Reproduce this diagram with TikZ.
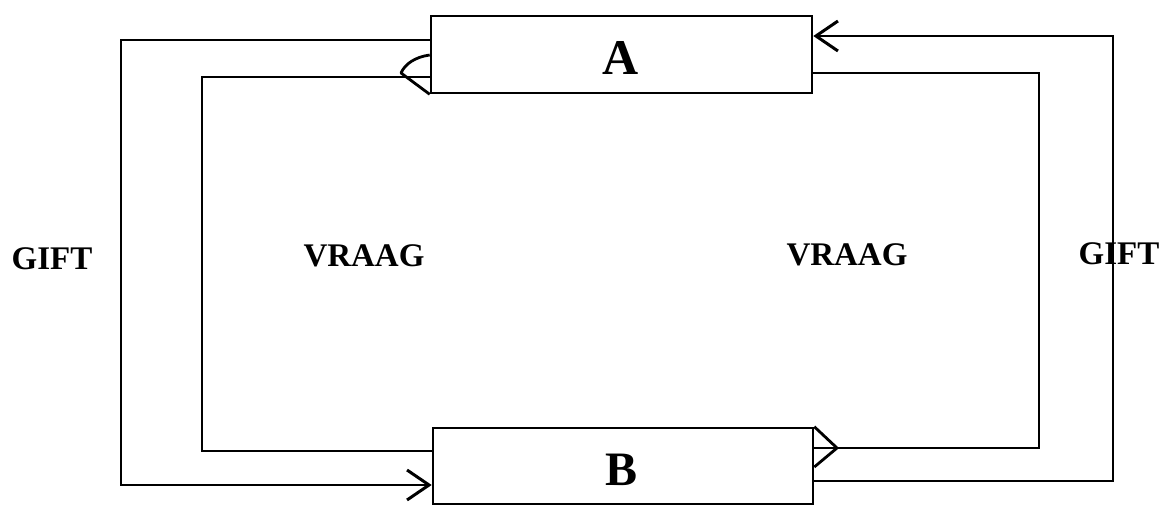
\documentclass[tikz,border=0pt]{standalone}
\usepackage{fontspec}
\setmainfont{Liberation Serif}
\usetikzlibrary{arrows.meta}
\begin{document}
\begin{tikzpicture}[x=1pt,y=-1pt,
  box/.style={draw,line width=2.6pt,rectangle,inner sep=0pt},
  conn/.style={line width=2.5pt,line join=miter},
  lbl/.style={font=\bfseries\fontsize{33}{33}\selectfont,inner sep=0pt},
  barb/.style={-{Straight Barb[length=22pt,width=30pt,line width=3pt]}}]
\useasboundingbox (0,0) rectangle (1163,504);
\node[box,minimum width=381pt,minimum height=77pt] (A) at (621.5,54.5) {};
\node[box,minimum width=380pt,minimum height=76pt] (B) at (623,466) {};
\node[lbl,font=\bfseries\fontsize{50}{50}\selectfont] (tA) at (621,58) {A};
\node[lbl,font=\bfseries\fontsize{48}{48}\selectfont] (tB) at (622,470) {B};
\node[lbl] (g1) at (52,259) {GIFT};
\node[lbl] (g2) at (1119,254) {GIFT};
\node[lbl] (v1) at (364,256) {VRAAG};
\node[lbl] (v2) at (847,255) {VRAAG};
% corner coordinates
\coordinate (lo1) at (121,40);
\coordinate (lo2) at (121,485);
\coordinate (li1) at (202,77);
\coordinate (li2) at (202,451);
\coordinate (ri1) at (1039,73);
\coordinate (ri2) at (1039,448);
\coordinate (ro1) at (1113,36);
\coordinate (ro2) at (1113,481);
% outer left loop: A -> B
\draw[conn,barb] (A.west |- lo1) -- (lo1) -- (lo2) -- (B.west |- lo2);
% inner left loop: B -> A
\draw[conn] (B.west |- li2) -- (li2) -- (li1) -- (A.west |- li1);
% inner right loop: A -> B
\draw[conn] (A.east |- ri1) -- (ri1) -- (ri2) -- (B.east |- ri2);
% outer right loop: B -> A
\draw[conn,barb] (B.east |- ro2) -- (ro2) -- (ro1) -- (A.east |- ro1);
% reversed triangle marks
\coordinate (tipA) at (401,73);
\coordinate (tipB) at (837,448);
\draw[line width=2.8pt,line join=round] (A.west |- 0,55) .. controls (415,57) and (405,64) .. (tipA) -- (A.south west);
\draw[line width=2.8pt,line join=round] (B.north east) -- (tipB) -- (B.east |- 0,467);
\end{tikzpicture}
\end{document}
